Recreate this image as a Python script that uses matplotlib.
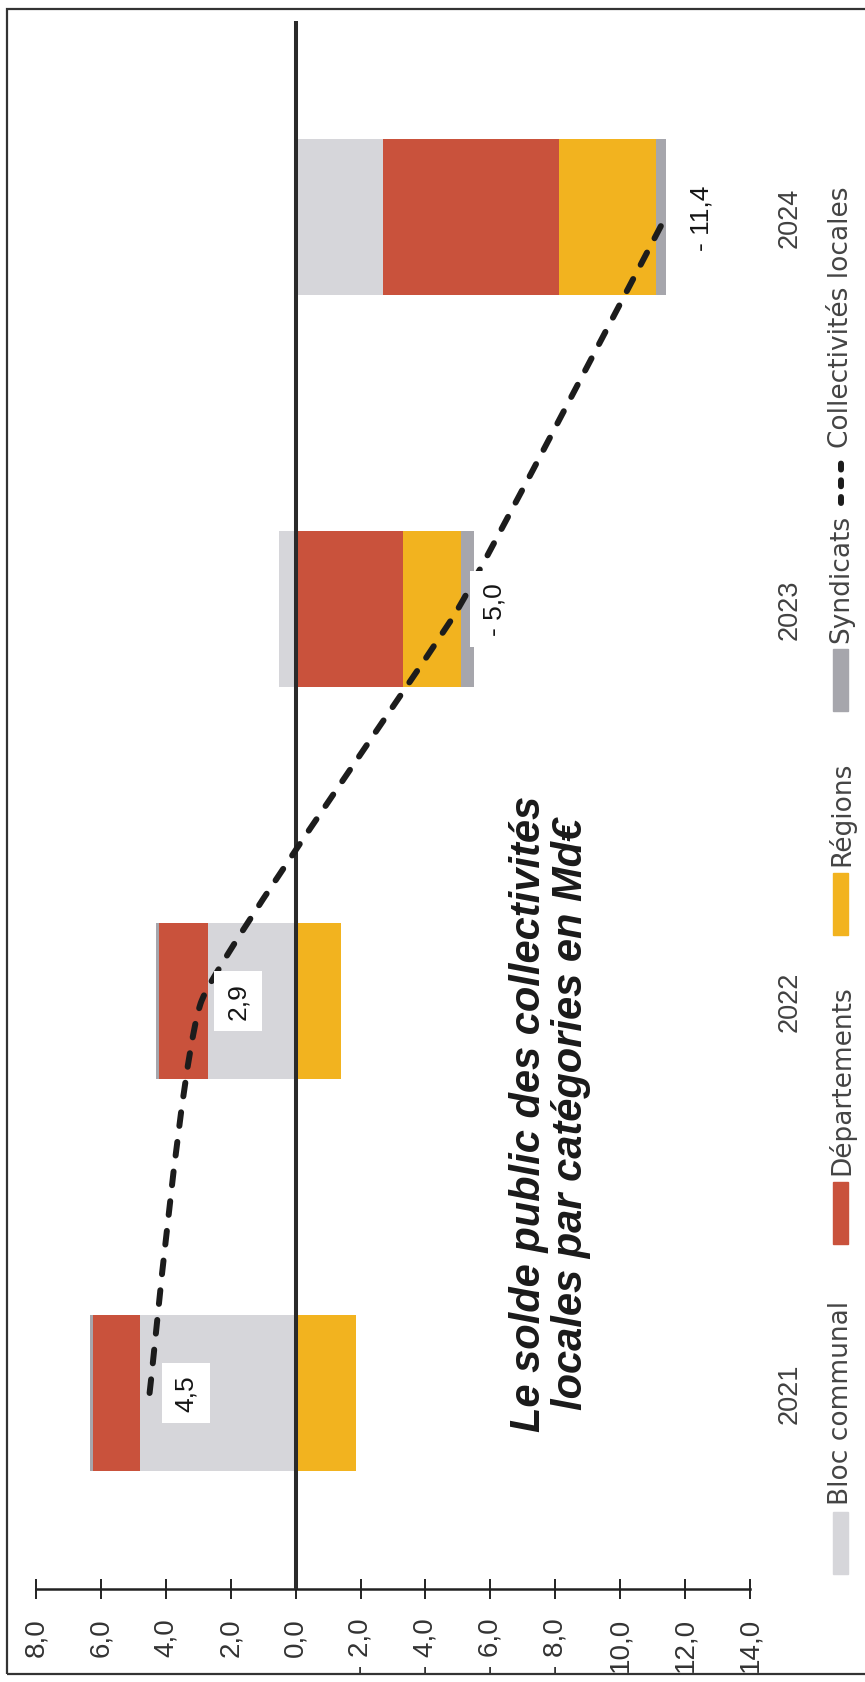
import numpy as np
import matplotlib.pyplot as plt
from matplotlib.path import Path
from matplotlib.patches import PathPatch, Rectangle
from matplotlib.lines import Line2D

plt.rcParams['font.family'] = ['Liberation Sans', 'DejaVu Sans']

# solde public par catégorie de collectivités, en Md€
years = ['2021', '2022', '2023', '2024']
bloc_communal = [4.8, 2.7, 0.5, -2.7]
departements = [1.45, 1.5, -3.3, -5.4]
regions = [-1.85, -1.4, -1.8, -3.0]
syndicats = [0.1, 0.1, -0.4, -0.3]
collectivites = [4.5, 2.9, -5.0, -11.4]

series_names = ['Bloc communal', 'Départements', 'Régions', 'Syndicats']
series_colors = ['#d6d6da', '#c9523c', '#f2b31f', '#a6a6ac']
line_name = 'Collectivités locales'

value_ticks = [8, 6, 4, 2, 0, -2, -4, -6, -8, -10, -12, -14]
# le signe des trois dernières graduations déborde du cadre
tick_labels = ['8,0', '6,0', '4,0', '2,0', '0,0', '- 2,0', '- 4,0', '- 6,0', '- 8,0',
               '10,0', '12,0', '14,0']

W, H = 865, 1683


def fx(x):
    return x / W


def fy(y):
    return 1 - y / H


def fmt(v):
    s = f"{abs(v):.1f}".replace('.', ',')
    return s if v >= 0 else '- ' + s


fig = plt.figure(figsize=(W / 100, H / 100), dpi=100)
ax = fig.add_axes([fx(36), fy(1590), fx(750) - fx(36), fy(22) - fy(1590)])

# barres empilées (positifs et négatifs empilés séparément)
ypos = np.arange(len(years))
pos_base = np.zeros(len(years))
neg_base = np.zeros(len(years))
for vals, color in zip([bloc_communal, departements, regions, syndicats], series_colors):
    vals = np.array(vals)
    left = np.where(vals >= 0, pos_base, neg_base)
    ax.barh(ypos, vals, left=left, height=0.4, color=color, zorder=2)
    pos_base += np.clip(vals, 0, None)
    neg_base += np.clip(vals, None, 0)

ax.axvline(0, color='#2a2a2a', lw=2.9, zorder=3)

# courbe lissée du solde total (Bézier passant par chaque point)
tension = 1 / 16
pts = np.column_stack([collectivites, ypos]).astype(float)
verts = [pts[0]]
codes = [Path.MOVETO]
n = len(pts)
for i in range(n - 1):
    p_prev = pts[i - 1] if i > 0 else pts[i]
    p_next = pts[i + 2] if i + 2 < n else pts[i + 1]
    verts += [pts[i] + (pts[i + 1] - p_prev) * tension,
              pts[i + 1] - (p_next - pts[i]) * tension,
              pts[i + 1]]
    codes += [Path.CURVE4] * 3
ax.add_patch(PathPatch(Path(verts, codes), fill=False, edgecolor='#1c1c1c', lw=4.3,
                       linestyle=(0, (2.3, 2.7)), capstyle='round', zorder=4))

for i, v in enumerate(collectivites):
    ax.annotate(fmt(v), (v, i), xytext=(26, 0), textcoords='offset points',
                rotation=90, ha='center', va='center', fontsize=19, color='#151515',
                bbox=dict(boxstyle='square,pad=0.45', fc='white', ec='none'), zorder=5)

ax.set_xlim(8, -14)
ax.set_ylim(-0.5, 3.5)
for side in ['left', 'top', 'right']:
    ax.spines[side].set_visible(False)
ax.spines['bottom'].set_linewidth(1.8)
ax.spines['bottom'].set_color('#222222')

ax.set_xticks(value_ticks)
ax.set_xticklabels(tick_labels)
ax.tick_params(axis='x', direction='inout', length=14.4, width=1.4, color='#222222',
               pad=13, labelsize=20, labelcolor='#333333', labelrotation=90)

ax.yaxis.tick_right()
ax.set_yticks(ypos)
ax.set_yticklabels(years, rotation=90, va='center')
ax.tick_params(axis='y', length=0, pad=19.5, labelsize=19.5, labelcolor='#404040')
ax.set_facecolor('none')

# légende verticale à droite
key_spans = [(1513, 1575), (1183, 1245), (874, 936), (650, 712)]
text_starts = [1505, 1175, 866, 643]
for name, color, (y0, y1), ts in zip(series_names, series_colors, key_spans, text_starts):
    fig.add_artist(Rectangle((fx(833), fy(y1)), 15 / W, (y1 - y0) / H,
                             transform=fig.transFigure, color=color))
    fig.text(fx(841), fy(ts), name, rotation=90, ha='center', va='bottom',
             fontsize=19, color='#444444', family='DejaVu Sans')
fig.add_artist(Line2D([fx(841), fx(841)], [fy(504), fy(460)], transform=fig.transFigure,
                      lw=4.3, color='#1c1c1c', dashes=(1.0, 1.8), dash_capstyle='round'))
fig.text(fx(841), fy(448), line_name, rotation=90, ha='center', va='bottom',
         fontsize=19, color='#444444', family='DejaVu Sans')

fig.text(fx(550), fy(1114), "Le solde public des collectivités\nlocales par catégories en Md€",
         rotation=90, ha='center', va='center', fontsize=30, fontweight='bold',
         fontstyle='italic', linespacing=1.05, color='#1a1a1a')

# cadre
fig.add_artist(Rectangle((fx(7), fy(1675)), (870 - 7) / W, (1675 - 10) / H,
                         transform=fig.transFigure, fill=False, ec='#333333', lw=1.6))

fig.savefig('out.png', dpi=100)
